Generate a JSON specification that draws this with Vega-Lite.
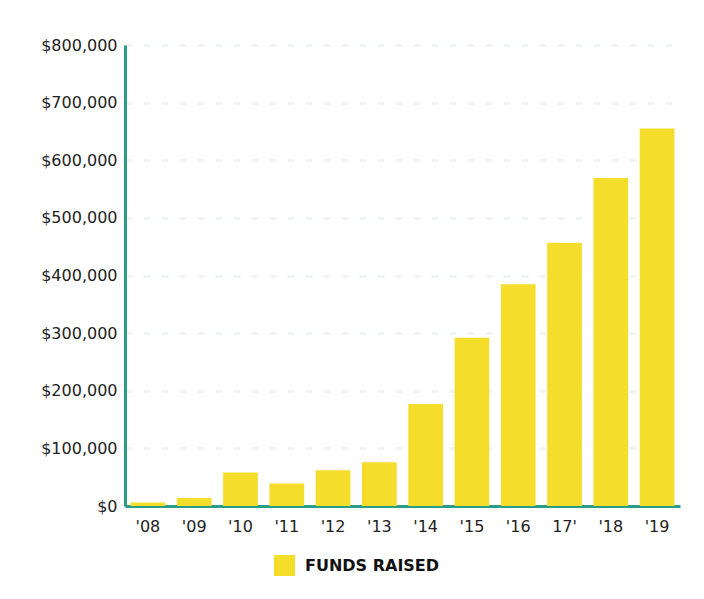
{
  "$schema": "https://vega.github.io/schema/vega-lite/v6.json",
  "width": 555,
  "height": 461,
  "autosize": "none",
  "padding": {"left": 125, "top": 45, "right": 24, "bottom": 93},
  "background": "white",
  "data": {"values": [
    {"year": "'08", "funds": 6000, "series": "FUNDS RAISED"},
    {"year": "'09", "funds": 14000, "series": "FUNDS RAISED"},
    {"year": "'10", "funds": 58000, "series": "FUNDS RAISED"},
    {"year": "'11", "funds": 39000, "series": "FUNDS RAISED"},
    {"year": "'12", "funds": 62000, "series": "FUNDS RAISED"},
    {"year": "'13", "funds": 76000, "series": "FUNDS RAISED"},
    {"year": "'14", "funds": 177000, "series": "FUNDS RAISED"},
    {"year": "'15", "funds": 292000, "series": "FUNDS RAISED"},
    {"year": "'16", "funds": 385000, "series": "FUNDS RAISED"},
    {"year": "17'", "funds": 457000, "series": "FUNDS RAISED"},
    {"year": "'18", "funds": 569000, "series": "FUNDS RAISED"},
    {"year": "'19", "funds": 655000, "series": "FUNDS RAISED"}
  ]},
  "mark": {"type": "bar", "color": "#F5DD2C"},
  "encoding": {
    "x": {
      "field": "year", "type": "nominal", "sort": null,
      "scale": {"paddingInner": 0.25, "paddingOuter": 0.12},
      "axis": {
        "title": null, "labelAngle": 0, "ticks": false,
        "domainColor": "#2A9D87", "domainWidth": 3,
        "labelFont": "DejaVu Sans", "labelFontSize": 16, "labelColor": "#222222",
        "labelPadding": 12
      }
    },
    "y": {
      "field": "funds", "type": "quantitative",
      "scale": {"domain": [0, 800000]},
      "axis": {
        "title": null, "values": [0, 100000, 200000, 300000, 400000, 500000, 600000, 700000, 800000],
        "format": "$,.0f", "ticks": false,
        "domainColor": "#2A9D87", "domainWidth": 3,
        "gridColor": "#EEF2F1", "gridDash": [7, 11], "gridWidth": 2.5,
        "labelFont": "DejaVu Sans", "labelFontSize": 16, "labelColor": "#222222",
        "labelPadding": 8
      }
    },
    "color": {
      "field": "series", "type": "nominal",
      "scale": {"range": ["#F5DD2C"]},
      "legend": {
        "title": null, "orient": "none", "legendX": 149, "legendY": 510,
        "symbolType": "square", "symbolSize": 441, "symbolStrokeWidth": 0,
        "labelFont": "DejaVu Sans", "labelFontSize": 16, "labelFontWeight": "bold",
        "labelColor": "#111111", "labelOffset": 10
      }
    }
  },
  "config": {"view": {"stroke": null}}
}
